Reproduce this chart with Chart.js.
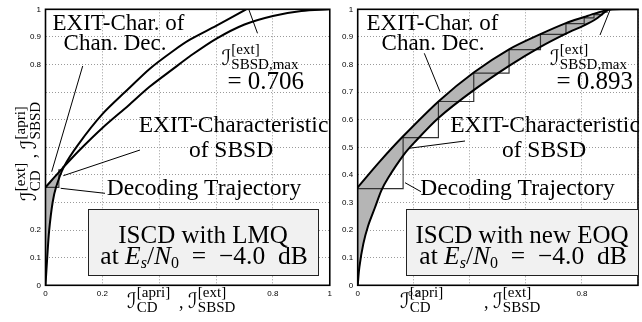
<!DOCTYPE html>
<html>
<head>
<meta charset="utf-8">
<script src="https://cdn.jsdelivr.net/npm/chart.js@4/dist/chart.umd.min.js"></script>
<style>
html, body { margin: 0; padding: 0; background: #fff; }
#wrap { position: relative; width: 642px; height: 322px; overflow: hidden; }
canvas { position: absolute; top: 0; }
</style>
</head>
<body>
<div id="wrap">
    <canvas id="lmq" width="336" height="322" style="left:0"></canvas>
    <canvas id="eoq" width="306" height="322" style="left:336px"></canvas>
</div>
<script>
// ISCD with LMQ (left)
const lmqChanX = [0, 0.03, 0.065, 0.115, 0.2, 0.29, 0.367, 0.45, 0.508, 0.6, 0.7, 0.8, 0.9, 1];
const lmqChanY = [0.355, 0.39, 0.43, 0.485, 0.57, 0.65, 0.72, 0.785, 0.83, 0.893, 0.945, 0.976, 0.994, 1];
const lmqSbsdX = [0, 0.006, 0.013, 0.025, 0.037, 0.065, 0.115, 0.2, 0.29, 0.367, 0.45, 0.508, 0.6, 0.706];
const lmqSbsdY = [0, 0.1, 0.2, 0.3, 0.355, 0.43, 0.51, 0.62, 0.71, 0.785, 0.85, 0.89, 0.94, 1];
const lmqTrajX = [0, 0.047, 0.06];
const lmqTrajY = [0.355, 0.418, 0.43];

// ISCD with new EOQ (right)
const eoqChanX = [0, 0.08, 0.162, 0.29, 0.414, 0.54, 0.652, 0.743, 0.808, 0.85, 0.89, 0.95, 1];
const eoqChanY = [0.355, 0.45, 0.54, 0.668, 0.771, 0.855, 0.91, 0.95, 0.972, 0.986, 0.997, 1, 1];
const eoqSbsdX = [0, 0.006, 0.02, 0.037, 0.061, 0.085, 0.109, 0.162, 0.2, 0.289, 0.414, 0.54, 0.652, 0.743, 0.808, 0.85, 0.893];
const eoqSbsdY = [0, 0.066, 0.15, 0.215, 0.28, 0.345, 0.39, 0.47, 0.515, 0.607, 0.707, 0.795, 0.864, 0.912, 0.942, 0.965, 1];
const eoqTrajX = [0, 0.162, 0.288, 0.414, 0.54, 0.652, 0.743, 0.808, 0.843, 0.873, 0.89];
const eoqTrajY = [0.35, 0.535, 0.666, 0.769, 0.854, 0.909, 0.948, 0.969, 0.981, 0.99, 1];

// tick labels that are visible
const lmqXTicks = [0, 0.2, 0.8, 1];
const lmqYTicks = [0, 0.1, 0.2, 0.8, 0.9, 1];
const eoqXTicks = [0, 0.2, 0.8];
const eoqYTicks = [0, 0.1, 0.2, 0.3, 0.4, 0.5, 0.6, 0.7, 0.8, 0.9, 1];

const lmqTunnelEnd = 0.065;
const eoqTunnelEnd = 0.893;

const SERIF = "'Liberation Serif', 'Times New Roman', serif";
const SCRIPT = "'DejaVu Serif', 'DejaVu Sans', serif";

const pts = (xs, ys) => xs.map((x, i) => ({x: x, y: ys[i]}));

function tunnel(cx, cy, sx, sy, end) {
    const top = pts(cx, cy).filter(p => p.x <= end);
    const bottom = pts(sx, sy).filter(p => p.x <= end).reverse();
    return top.concat(bottom);
}

function fontOf(p, base) {
    return (p.it ? 'italic ' : '') + (p.s || base) + 'px ' + (p.f || SERIF);
}

function widthOf(ctx, p, base) {
    if (p.stack) return Math.max(...p.stack.map(q => widthOf(ctx, q, base)));
    ctx.font = fontOf(p, base);
    return ctx.measureText(p.t).width;
}

// draws a run of text pieces, sub/superscripts stacked like in LaTeX
function rich(ctx, parts, x, y, base, align, rot) {
    const w = parts.reduce((s, p) => s + widthOf(ctx, p, base), 0);
    ctx.save();
    ctx.translate(x, y);
    if (rot) ctx.rotate(rot);
    let cx = align === 'center' ? -w / 2 : (align === 'right' ? -w : 0);
    ctx.textAlign = 'left';
    ctx.textBaseline = 'alphabetic';
    ctx.fillStyle = '#000';
    for (const p of parts) {
        for (const q of (p.stack || [p])) {
            ctx.font = fontOf(q, base);
            ctx.fillText(q.t, cx, q.dy || 0);
        }
        cx += widthOf(ctx, p, base);
    }
    ctx.restore();
}

const I = {t: '\u2110', f: SCRIPT, s: 21};
const scr = (sup, sub) => ({stack: [{t: sup, s: 15, dy: -11}, {t: sub, s: 15, dy: 4}]});
const esn0 = [{t: 'at '}, {t: 'E', it: true}, {t: 's', it: true, s: 16, dy: 4}, {t: '/'},
    {t: 'N', it: true}, {t: '0', s: 16, dy: 4}, {t: '\u2002=\u2002\u22124.0\u2002dB'}];

function line(ctx, x1, y1, x2, y2) {
    ctx.beginPath();
    ctx.moveTo(x1, y1);
    ctx.lineTo(x2, y2);
    ctx.stroke();
}

const decor = {
    id: 'decor',
    beforeDatasetsDraw(chart, args, o) {
        const {ctx, scales: {x, y}} = chart;
        ctx.save();
        ctx.beginPath();
        o.tunnel.forEach((p, i) => {
            const px = x.getPixelForValue(p.x), py = y.getPixelForValue(p.y);
            if (i) ctx.lineTo(px, py); else ctx.moveTo(px, py);
        });
        ctx.closePath();
        ctx.fillStyle = '#b5b5b5';
        ctx.fill();
        ctx.restore();
    },
    afterDraw(chart, args, o) {
        const {ctx, chartArea: a} = chart;
        ctx.save();
        ctx.strokeStyle = '#000';
        ctx.lineWidth = 1.6;
        ctx.strokeRect(a.left, a.top, a.right - a.left, a.bottom - a.top);

        ctx.translate(-o.dx, 0);
        const L = o.lab;
        ctx.lineWidth = 1;
        L.lines.forEach(l => line(ctx, l[0], l[1], l[2], l[3]));

        rich(ctx, [{t: 'EXIT-Char. of'}], L.chan[0], 30, 23, 'center');
        rich(ctx, [{t: 'Chan. Dec.'}], L.chan[1], 50, 23, 'center');
        rich(ctx, [I, scr('[ext]', 'SBSD,max')], L.max[0], 65, 23, 'left');
        rich(ctx, [{t: '= ' + L.max[2]}], L.max[1], 89, 25, 'right');
        rich(ctx, [{t: 'EXIT-Characteristic'}], L.sbsd[0], 131.5, 23.5, 'center');
        rich(ctx, [{t: 'of SBSD'}], L.sbsd[1], 157, 23.5, 'center');
        rich(ctx, [{t: 'Decoding Trajectory'}], L.traj, 195, 23.5, 'center');

        const b = L.box;
        ctx.fillStyle = '#f1f1f1';
        ctx.fillRect(b[0], b[1], b[2] - b[0], b[3] - b[1]);
        ctx.strokeStyle = '#222';
        ctx.strokeRect(b[0] + 0.5, b[1] + 0.5, b[2] - b[0], b[3] - b[1]);
        rich(ctx, [{t: L.title}], (b[0] + b[2]) / 2, 242.5, 25, 'center');
        rich(ctx, esn0, (b[0] + b[2]) / 2 + 1, 264, 25.5, 'center');

        // axis titles
        rich(ctx, [I, scr('[apri]', 'CD')], L.xt[0], 308, 21, 'left');
        rich(ctx, [{t: ', ', s: 18}, I, scr('[ext]', 'SBSD')], L.xt[1], 308, 21, 'left');
        if (L.yt) {
            rich(ctx, [I, scr('[ext]', 'CD'), {t: ' , ', s: 18}, I, scr('[apri]', 'SBSD')],
                36, 201, 21, 'left', -Math.PI / 2);
        }
        ctx.restore();
    }
};

function tickLabel(show) {
    return v => {
        const r = Math.round(v * 10) / 10;
        return show.includes(r) ? String(r) : '';
    };
}

function makeChart(id, dx, area, data, ticks, lab) {
    const axis = (step, show) => ({
        type: 'linear', min: 0, max: 1,
        ticks: {stepSize: step, autoSkip: false, maxRotation: 0, padding: 4, color: '#000',
            font: {family: "'Liberation Sans', Arial, sans-serif", size: 8}, callback: tickLabel(show)},
        grid: {color: '#9a9a9a', lineWidth: 1, drawTicks: false},
        border: {display: false, dash: [1, 2]}
    });
    const x = axis(0.2, ticks[0]);
    x.afterFit = s => { s.height = 322 - area.bottom; };
    const y = axis(0.1, ticks[1]);
    y.afterFit = s => { s.width = area.left; };
    y.ticks.padding = 4.5;

    return new Chart(document.getElementById(id), {
        type: 'scatter',
        data: {
            datasets: [
                {label: 'EXIT-Char. of Chan. Dec.', data: pts(data.cx, data.cy), showLine: true,
                    borderColor: '#000', borderWidth: 2, pointRadius: 0, tension: 0.3},
                {label: 'EXIT-Characteristic of SBSD', data: pts(data.sx, data.sy), showLine: true,
                    borderColor: '#000', borderWidth: 2, pointRadius: 0, tension: 0.3},
                {label: 'Decoding Trajectory', data: pts(data.tx, data.ty), showLine: true, stepped: 'before',
                    borderColor: '#333', borderWidth: 1.2, pointRadius: 0}
            ]
        },
        options: {
            responsive: false,
            animation: false,
            devicePixelRatio: 1,
            layout: {padding: {left: 0, top: area.top, right: area.right, bottom: 0}},
            scales: {x: x, y: y},
            plugins: {
                legend: {display: false},
                tooltip: {enabled: false},
                decor: {dx: dx, lab: lab, tunnel: tunnel(data.cx, data.cy, data.sx, data.sy, data.end)}
            }
        },
        plugins: [decor]
    });
}

makeChart('lmq', 0, {left: 45.5, top: 4.6, right: 6, bottom: 285.3},
    {cx: lmqChanX, cy: lmqChanY, sx: lmqSbsdX, sy: lmqSbsdY, tx: lmqTrajX, ty: lmqTrajY, end: lmqTunnelEnd},
    [lmqXTicks, lmqYTicks],
    {
        chan: [118.5, 115], max: [221.5, 304, '0.706'], sbsd: [233.5, 231], traj: 204,
        box: [88, 209, 318, 275], title: 'ISCD with LMQ', xt: [127, 179], yt: true,
        lines: [[82.7, 66, 51.7, 171.7], [249, 10, 257.5, 33.3], [63.3, 175.7, 140, 150], [60.7, 188.3, 105, 193.3]]
    });

makeChart('eoq', 336, {left: 21.7, top: 4.6, right: 1, bottom: 285.3},
    {cx: eoqChanX, cy: eoqChanY, sx: eoqSbsdX, sy: eoqSbsdY, tx: eoqTrajX, ty: eoqTrajY, end: eoqTunnelEnd},
    [eoqXTicks, eoqYTicks],
    {
        chan: [432.5, 433], max: [550, 633, '0.893'], sbsd: [545, 544], traj: 517.5,
        box: [406, 209, 638, 275], title: 'ISCD with new EOQ', xt: [400, 484], yt: false,
        lines: [[424.3, 53.3, 440, 91.7], [610, 10, 600, 35], [409, 148.3, 465, 141], [405, 182.7, 421, 191.7]]
    });
</script>
</body>
</html>
